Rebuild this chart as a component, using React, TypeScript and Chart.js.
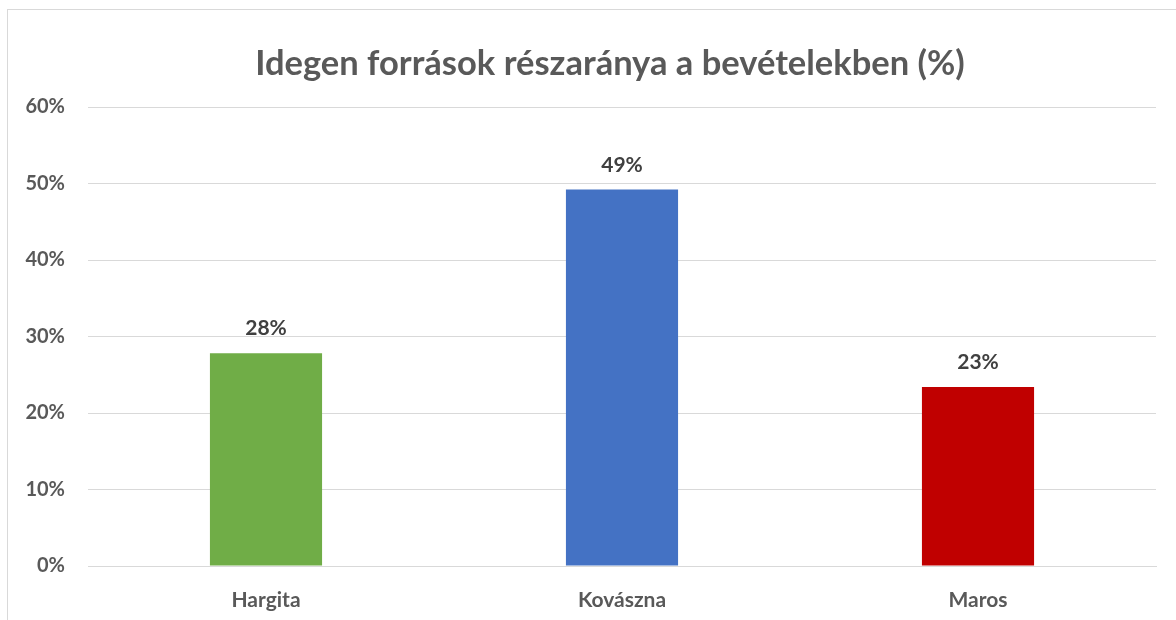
import React, { useEffect, useRef } from "react";
import { Chart, registerables } from "chart.js";

Chart.register(...registerables);

const categories = ["Hargita", "Kovászna", "Maros"];
const values = [27.8, 49.2, 23.4];
const barColors = ["#70AD47", "#4472C4", "#C00000"];
const tickValues = [0, 10, 20, 30, 40, 50, 60];
const titleText = "Idegen források részaránya a bevételekben (%)";

const FONT = "Lato, 'Open Sans', sans-serif";

const overlayPlugin = {
  id: "overlay",
  afterDatasetsDraw(chart: any) {
    const ctx = chart.ctx;
    const meta = chart.getDatasetMeta(0);
    ctx.save();
    ctx.fillStyle = "#404040";
    ctx.font = `bold 21px ${FONT}`;
    ctx.textAlign = "center";
    ctx.textBaseline = "alphabetic";
    meta.data.forEach((bar: any, i: number) => {
      ctx.fillText(Math.round(values[i]) + "%", bar.x, bar.y - 18);
    });
    ctx.fillStyle = "#595959";
    ctx.font = `bold 34.5px ${FONT}`;
    ctx.fillText(titleText, 610, 75);
    ctx.restore();
  },
};

export default function App() {
  const ref = useRef<HTMLCanvasElement>(null);
  useEffect(() => {
    document.body.style.margin = "0";
    document.body.style.overflow = "hidden";
    const chart = new Chart(ref.current!, {
      type: "bar",
      data: {
        labels: categories,
        datasets: [
          {
            data: values,
            backgroundColor: barColors,
            barPercentage: 0.63,
            categoryPercentage: 0.5,
          },
        ],
      },
      options: {
        animation: false,
        responsive: false,
        maintainAspectRatio: false,
        layout: { padding: { top: 107, right: 20, left: 0, bottom: 0 } },
        plugins: {
          legend: { display: false },
          tooltip: { enabled: false },
          title: { display: false },
        },
        scales: {
          x: {
            grid: { display: false, drawTicks: false },
            border: { display: true, color: "#D9D9D9", width: 1 },
            ticks: {
              color: "#595959",
              font: { family: FONT, size: 21, weight: "bold" },
              padding: 22,
            },
            afterFit(scale: any) {
              scale.height = 54;
            },
          },
          y: {
            min: 0,
            max: 60,
            afterBuildTicks(scale: any) {
              scale.ticks = tickValues.map((v) => ({ value: v }));
            },
            grid: { color: "#D9D9D9", lineWidth: 1, drawTicks: false },
            border: { display: false },
            ticks: {
              color: "#595959",
              font: { family: FONT, size: 20, weight: "bold" },
              padding: 23,
              callback: (v: any) => v + "%",
            },
            afterFit(scale: any) {
              scale.width = 88;
            },
          },
        },
      },
      plugins: [overlayPlugin],
    });
    return () => chart.destroy();
  }, []);
  return (
    <div
      style={{
        position: "fixed",
        left: 0,
        top: 0,
        width: 1176,
        height: 620,
        overflow: "hidden",
        background: "#fff",
      }}
    >
      <div
        style={{
          position: "absolute",
          left: 7,
          top: 9,
          width: 1200,
          height: 700,
          border: "1px solid #D9D9D9",
        }}
      />
      <canvas
        ref={ref}
        width={1176}
        height={620}
        style={{ position: "absolute", left: 0, top: 0, width: 1176, height: 620 }}
      />
    </div>
  );
}
